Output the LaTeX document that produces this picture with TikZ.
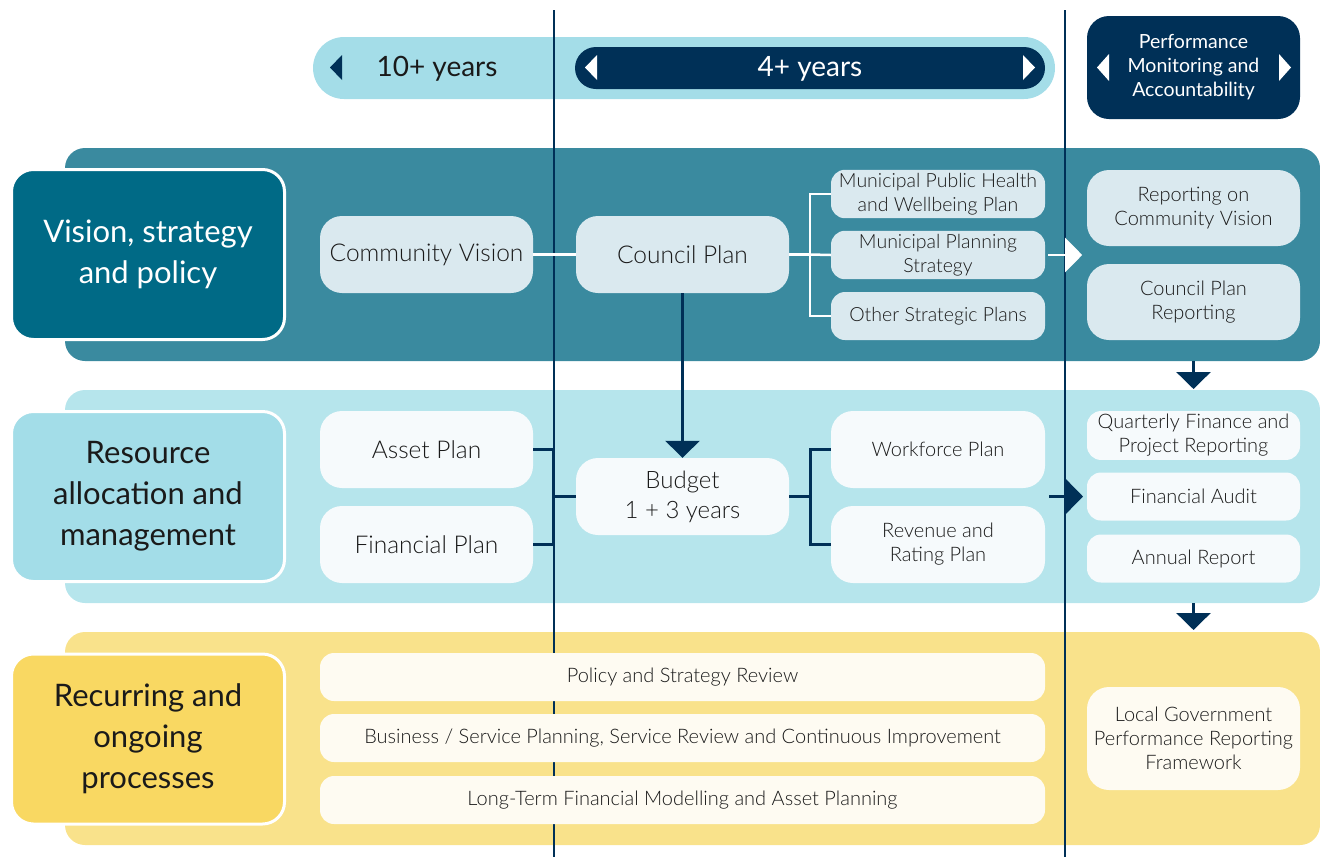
\documentclass[tikz,border=0pt]{standalone}
\usepackage{fontspec}
\setmainfont{Lato}[UprightFont=* Light]
\newfontfamily\latoreg{Lato}
\usetikzlibrary{arrows.meta}
\definecolor{navy}{HTML}{003057}
\definecolor{barlight}{HTML}{A4DDE8}
\definecolor{bandone}{HTML}{3A8A9F}
\definecolor{labone}{HTML}{006A86}
\definecolor{boxone}{HTML}{DAE9EF}
\definecolor{bandtwo}{HTML}{B6E5EC}
\definecolor{labtwo}{HTML}{A3DDE8}
\definecolor{boxtwo}{HTML}{F6FAFC}
\definecolor{bandthree}{HTML}{F9E28B}
\definecolor{labthree}{HTML}{F9D862}
\definecolor{boxthree}{HTML}{FEFBF2}
\definecolor{txt}{HTML}{1A1A1A}
\tikzset{
  label/.style={draw=white, line width=3pt, rounded corners=22pt, minimum width=273pt,
    minimum height=170pt, align=center, font=\latoreg\fontsize{31}{41}\selectfont},
  box/.style={rounded corners=22pt, minimum width=213pt, minimum height=77pt,
    align=center, text=txt, font=\fontsize{24.5}{30}\selectfont},
  sidebox/.style={box, font=\fontsize{20}{24}\selectfont},
  smallbox/.style={rounded corners=14pt, minimum width=214pt, minimum height=48pt,
    align=center, text=txt, font=\fontsize{19.5}{24}\selectfont},
  longbox/.style={smallbox, minimum width=725pt, fill=boxthree, font=\fontsize{20}{24}\selectfont},
  yeartext/.style={font=\latoreg\fontsize{28}{32}\selectfont},
  wline/.style={white, line width=2.5pt},
  nline/.style={navy, line width=3pt},
  vline/.style={navy, line width=2pt},
  navyarrow/.style={nline, -{Triangle[width=34pt,length=17pt]}},
}
\begin{document}
\begin{tikzpicture}[x=1pt,y=-1pt]
\useasboundingbox (0,0) rectangle (1320,857);
% bands
\fill[bandone, rounded corners=20pt] (65,148) rectangle (1320,361);
\fill[bandtwo, rounded corners=20pt] (65,390) rectangle (1320,603);
\fill[bandthree, rounded corners=20pt] (65,632) rectangle (1320,845);
% time bars
\fill[barlight, rounded corners=31pt] (313,37) rectangle (1055,99);
\fill[navy, rounded corners=21pt] (575,47) rectangle (1045,89);
\node[yeartext, text=txt] (long) at (437,69) {10+ years};
\node[yeartext, text=white] (mid) at (810,69) {4+ years};
% timeline separators
\coordinate (v1t) at (554,10);
\coordinate (v1b) at (554,857);
\coordinate (v2t) at (1065,10);
\coordinate (v2b) at (1065,857);
\draw[vline] (v1t) -- (v1b);
\draw[vline] (v2t) -- (v2b);
\node[fill=navy, rounded corners=22pt, minimum width=213pt, minimum height=103pt, align=center,
  text=white, font=\latoreg\fontsize{19.5}{24}\selectfont] (perf) at (1193.5,67.5)
  {Performance\\Monitoring and\\Accountability};
\fill[navy] (342,55) -- (330,67.5) -- (342,80) -- cycle;
\fill[white] (597,55) -- (585,67.5) -- (597,80) -- cycle;
\fill[white] (1023,55) -- (1035,67.5) -- (1023,80) -- cycle;
\fill[white] (1109,54) -- (1097,67.5) -- (1109,81) -- cycle;
\fill[white] (1279,54) -- (1291,67.5) -- (1279,81) -- cycle;
% vision, strategy and policy
\node[label, fill=labone, text=white] (vis) at (148,254.5) {Vision, strategy\\and policy};
\node[box, fill=boxone] (cv) at (426.5,254.5) {Community Vision};
\node[box, fill=boxone] (cp) at (682.5,254.5) {Council Plan};
\node[smallbox, fill=boxone] (mph) at (938,194) {Municipal Public Health\\and Wellbeing Plan};
\node[smallbox, fill=boxone] (mps) at (938,255) {Municipal Planning\\Strategy};
\node[smallbox, fill=boxone] (osp) at (938,316) {Other Strategic Plans};
\node[sidebox, minimum height=76pt, fill=boxone] (rcv) at (1193.5,208) {Reporting on\\Community Vision};
\node[sidebox, minimum height=76pt, fill=boxone] (crp) at (1193.5,302) {Council Plan\\Reporting};
\coordinate (j1) at (810,254.5);
\draw[wline] (cv) -- (cp);
\draw[wline] (cp) -- (j1);
\draw[wline] (mph.west) -| (j1) |- (osp.west);
\draw[wline] (j1) -- (mps.west);
\draw[wline, -{Triangle[width=34pt,length=17pt]}] ([xshift=3pt]mps.east) -- ++(34,0);
% resource allocation and management
\node[label, fill=labtwo, text=txt] (res) at (148,496.5) {Resource\\allocation and\\management};
\node[box, fill=boxtwo] (ap) at (426.5,449.5) {Asset Plan};
\node[box, fill=boxtwo] (fp) at (426.5,544.5) {Financial Plan};
\node[box, fill=boxtwo, font=\fontsize{24}{30}\selectfont] (bud) at (682.5,496.5) {Budget\\1 + 3 years};
\node[box, minimum width=214pt, fill=boxtwo, font=\fontsize{20}{24}\selectfont] (wp) at (938,449.5) {Workforce Plan};
\node[box, minimum width=214pt, fill=boxtwo, font=\fontsize{20}{24}\selectfont] (rrp) at (938,544.5) {Revenue and\\Rating Plan};
\node[smallbox, minimum width=213pt, fill=boxtwo, font=\fontsize{20}{24}\selectfont] (qfr) at (1193.5,435.5) {Quarterly Finance and\\Project Reporting};
\node[smallbox, minimum width=213pt, fill=boxtwo, font=\fontsize{20}{24}\selectfont] (fa) at (1193.5,496.5) {Financial Audit};
\node[smallbox, minimum width=213pt, fill=boxtwo, font=\fontsize{20}{24}\selectfont] (ar) at (1193.5,558.5) {Annual Report};
\coordinate (j2) at (553,496.5);
\coordinate (j3) at (810,496.5);
\draw[nline] (ap.east) -| (j2) |- (fp.east);
\draw[nline] (j2) -- (bud);
\draw[nline] (wp.west) -| (j3) |- (rrp.west);
\draw[nline] (bud) -- (j3);
\draw[navyarrow] (cp) -- (bud);
\coordinate (a2) at (1049,496.5);
\draw[navyarrow] (a2) -- ++(34,0);
% recurring and ongoing processes
\node[label, fill=labthree, text=txt] (rec) at (148,739) {Recurring and\\ongoing\\processes};
\node[longbox] (psr) at (682.5,677) {Policy and Strategy Review};
\node[longbox] (bsp) at (682.5,738) {Business / Service Planning, Service Review and Continuous Improvement};
\node[longbox] (ltf) at (682.5,800) {Long-Term Financial Modelling and Asset Planning};
\node[sidebox, minimum height=103pt, fill=boxthree] (lgp) at (1193.5,738.5) {Local Government\\Performance Reporting\\Framework};
% flow between bands
\coordinate (d1) at (1193.5,361);
\coordinate (d2) at (1193.5,603);
\draw[navyarrow] (d1) -- ++(0,28);
\draw[navyarrow] (d2) -- ++(0,27);
\end{tikzpicture}
\end{document}
